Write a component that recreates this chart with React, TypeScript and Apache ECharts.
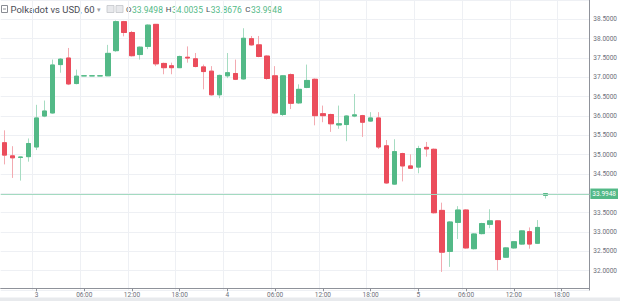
import React, { useEffect, useRef } from "react";
import * as echarts from "echarts";

// Hourly candles, Polkadot vs USD (60 min), starting day 2 20:00
const opens = [
  35.31, 34.97, 34.93, 34.95, 35.2, 36.0, 36.08, 37.33, 37.5, 36.84,
  37.04, 37.04, 37.04, 37.04, 37.69, 38.44, 38.16, 37.59, 37.8, 38.37,
  37.36, 37.3, 37.25, 37.52, 37.48, 37.27, 37.16, 36.55, 37.04, 37.1,
  36.96, 38.0, 37.84, 37.55, 37.04, 36.04, 37.07, 36.34, 36.74, 36.95,
  36.06, 36.04, 35.77, 35.78, 36.0, 36.01, 35.87, 35.95, 35.23, 34.24,
  35.03, 34.71, 34.68, 35.19, 35.14, 33.56, 32.5, 33.25, 33.57, 32.57,
  32.96, 33.2, 33.29, 32.35, 32.59, 32.69, 33.01, 32.71, 33.9498,
];
const closes = [
  34.99, 34.92, 34.94, 35.29, 35.95, 36.13, 37.32, 37.47, 36.83, 37.03,
  37.04, 37.04, 37.04, 37.62, 38.44, 38.16, 37.56, 37.78, 38.35, 37.35,
  37.25, 37.25, 37.54, 37.5, 37.28, 37.15, 36.55, 37.05, 37.12, 36.95,
  38.01, 37.84, 37.54, 36.97, 36.08, 37.04, 36.33, 36.69, 36.92, 36.01,
  36.01, 35.8, 35.8, 36.0, 36.03, 35.84, 35.95, 35.2, 34.27, 35.08,
  34.71, 34.65, 35.16, 35.15, 33.5, 32.48, 33.26, 33.57, 32.59, 32.95,
  33.22, 33.29, 32.29, 32.59, 32.75, 33.03, 32.69, 33.12, 33.9948,
];
const lows = [
  34.75, 34.4, 34.33, 34.82, 35.12, 35.97, 36.06, 37.12, 36.8, 36.82,
  37.04, 37.04, 37.04, 37.04, 37.66, 38.06, 37.54, 37.46, 37.73, 37.29,
  37.08, 37.08, 37.24, 37.38, 37.26, 36.69, 36.53, 36.46, 36.98, 36.93,
  36.94, 37.82, 37.52, 36.94, 36.05, 36.0, 36.18, 36.31, 36.72, 35.76,
  35.84, 35.59, 35.67, 35.35, 35.97, 35.46, 35.85, 35.15, 34.25, 34.22,
  34.31, 34.63, 34.52, 34.95, 33.48, 31.97, 32.1, 32.82, 32.57, 32.55,
  32.94, 33.1, 32.01, 32.33, 32.57, 32.67, 32.57, 32.69, 33.8676,
];
const highs = [
  35.63, 35.22, 34.95, 35.42, 36.29, 36.4, 37.46, 37.5, 37.76, 37.2,
  37.04, 37.04, 37.04, 37.84, 38.47, 38.46, 38.2, 37.8, 38.37, 38.38,
  37.38, 37.38, 37.56, 37.8, 37.63, 37.33, 37.29, 37.07, 37.63, 37.46,
  38.27, 38.07, 38.07, 37.57, 37.29, 37.06, 37.1, 36.82, 37.33, 36.97,
  36.27, 36.06, 36.27, 36.02, 36.57, 36.03, 36.1, 36.1, 35.38, 35.4,
  35.05, 35.01, 35.23, 35.33, 35.16, 33.76, 33.28, 33.67, 33.59, 32.97,
  33.24, 33.59, 33.31, 32.61, 32.77, 33.05, 33.12, 33.31, 34.0035,
];

const lastPrice = 33.9948;
const titleText = "Polkadot vs USD, 60";
const ohlcLabels = ["O", "H", "L", "C"];
const ohlcValues = ["33.9498", "34.0035", "33.8676", "33.9948"];

// time axis: 74 hourly slots, first slot = day 2, 20:00
const startDay = 2;
const startHour = 20;
const slotCount = 74;
const categories: string[] = Array.from({ length: slotCount }, (_, i) => {
  const t = startHour + i;
  const d = startDay + Math.floor(t / 24);
  const h = t % 24;
  return h === 0 ? String(d) : `${h < 10 ? "0" + h : h}:00`;
});
const tickEvery = 6;
const firstTick = 4;

const GREEN = "#53b987";
const RED = "#eb4d5c";
const GREEN_WICK = "#a6dcc2";
const RED_WICK = "#f3aab1";
const FONT = "Roboto, 'Open Sans', sans-serif";

export default function App() {
  const ref = useRef<HTMLDivElement>(null);
  useEffect(() => {
    if (!ref.current) return;
    const chart = echarts.init(ref.current, undefined, { renderer: "svg" });
    const full = opens.map((o, i) => [o, closes[i], lows[i], highs[i]]);
    const bodies = opens.map((o, i) => [
      o,
      closes[i],
      Math.min(o, closes[i]),
      Math.max(o, closes[i]),
    ]);
    const showTick = (idx: number) => (idx - firstTick) % tickEvery === 0;

    // x positions where each OHLC value starts
    const valueX = [132, 172, 210.8, 251];
    const graphic: any[] = [
      // header icon
      {
        type: "rect",
        shape: { x: 1.5, y: 5.5, width: 6, height: 7 },
        style: { fill: "#fff", stroke: "#8a8d94", lineWidth: 1 },
      },
      {
        type: "line",
        shape: { x1: 3, y1: 9, x2: 6, y2: 9 },
        style: { stroke: "#8a8d94", lineWidth: 1 },
      },
      {
        type: "text",
        x: 10.5,
        y: 9.5,
        style: {
          text: titleText,
          fill: "#4a4c55",
          fontSize: 9.5,
          fontFamily: FONT,
          verticalAlign: "middle",
        },
      },
      {
        type: "text",
        x: 96.5,
        y: 9.5,
        style: {
          text: "▾",
          fill: "#9a9da5",
          fontSize: 7,
          fontFamily: FONT,
          verticalAlign: "middle",
        },
      },
      {
        type: "rect",
        shape: { x: 107, y: 5.5, width: 7, height: 7 },
        style: { fill: "#e8e9ec", stroke: "#c3c5ca", lineWidth: 0.8 },
      },
      {
        type: "rect",
        shape: { x: 116, y: 5.5, width: 7, height: 7 },
        style: { fill: "#e8e9ec", stroke: "#c3c5ca", lineWidth: 0.8 },
      },
      ...ohlcLabels.map((l, i) => ({
        type: "text",
        x: valueX[i] - 0.6,
        y: 9.5,
        style: {
          text: l,
          fill: "#4a4c55",
          fontSize: 8,
          fontFamily: FONT,
          align: "right",
          verticalAlign: "middle",
        },
      })),
      ...ohlcValues.map((v, i) => ({
        type: "text",
        x: valueX[i],
        y: 9.5,
        style: {
          text: v,
          fill: GREEN,
          fontSize: 8.5,
          fontFamily: FONT,
          align: "left",
          verticalAlign: "middle",
        },
      })),
      {
        type: "rect",
        shape: { x: 0, y: 297.5, width: 620, height: 4 },
        style: { fill: "#e8eaed" },
        z: -1,
      },
    ];

    chart.setOption({
      animation: false,
      backgroundColor: "#ffffff",
      grid: { left: 0.7, right: 27.3, top: -3.58, bottom: 10.92, containLabel: false },
      xAxis: {
        type: "category",
        data: categories,
        boundaryGap: true,
        offset: -1.8,
        axisLine: { show: true, lineStyle: { color: "#8f929a", width: 1 } },
        axisTick: {
          show: true,
          alignWithLabel: true,
          interval: (idx: number) => showTick(idx),
          length: 3,
          lineStyle: { color: "#8f929a" },
        },
        axisLabel: {
          interval: (idx: number) => showTick(idx),
          fontSize: 6.5,
          color: "#6d707a",
          fontFamily: FONT,
          margin: 3,
        },
        splitLine: {
          show: true,
          interval: (idx: number) => showTick(idx),
          lineStyle: { color: "#eef0f4", width: 1 },
        },
      },
      yAxis: {
        type: "value",
        position: "right",
        min: 31.5,
        max: 39,
        interval: 0.5,
        scale: true,
        axisLine: { show: true, lineStyle: { color: "#8f929a", width: 1 } },
        axisTick: { show: false },
        axisLabel: {
          fontSize: 6.5,
          color: "#6d707a",
          fontFamily: FONT,
          margin: 4,
          showMinLabel: false,
          showMaxLabel: false,
          formatter: (v: number) => v.toFixed(4),
        },
        splitLine: { show: true, lineStyle: { color: "#eef0f4", width: 1 } },
      },
      series: [
        {
          type: "candlestick",
          name: "wicks",
          data: full,
          barWidth: 5,
          silent: true,
          itemStyle: {
            color: GREEN_WICK,
            color0: RED_WICK,
            borderColor: GREEN_WICK,
            borderColor0: RED_WICK,
            borderWidth: 1,
          },
          z: 1,
        },
        {
          type: "candlestick",
          name: "bodies",
          data: bodies,
          barWidth: 5,
          itemStyle: {
            color: GREEN,
            color0: RED,
            borderColor: GREEN,
            borderColor0: RED,
            borderWidth: 1,
          },
          z: 2,
          markLine: {
            silent: true,
            symbol: ["none", "none"],
            lineStyle: { color: "#a3dac0", width: 1, type: "solid" },
            label: {
              show: true,
              position: "end",
              distance: 1,
              formatter: lastPrice.toFixed(4),
              backgroundColor: GREEN,
              color: "#ffffff",
              fontSize: 6.5,
              fontFamily: FONT,
              padding: [2, 2, 1.5, 2],
            },
            data: [{ yAxis: lastPrice }],
          },
        },
      ],
      graphic,
    });
    return () => chart.dispose();
  }, []);
  return (
    <div
      ref={ref}
      style={{ position: "fixed", left: 0, top: 0, width: 620, height: 301, background: "#fff" }}
    />
  );
}
